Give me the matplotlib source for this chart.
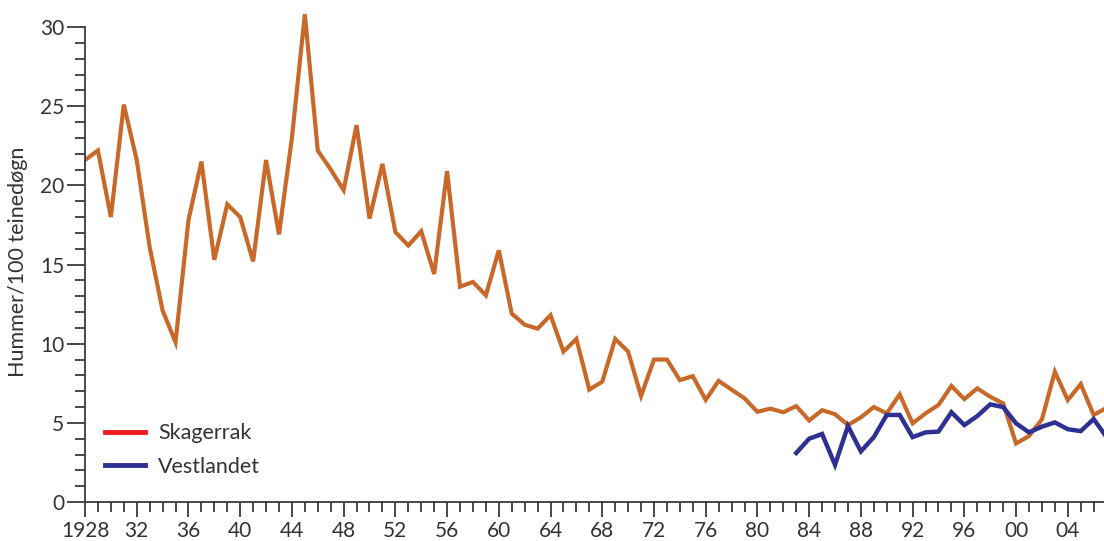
import matplotlib.pyplot as plt
from matplotlib.lines import Line2D
from matplotlib.ticker import MultipleLocator, FixedLocator

plt.rcParams['font.family'] = ['Lato', 'DejaVu Sans']

# Skagerrak (orange line), 1928-2007
years_sk = list(range(1928, 2008))
skagerrak = [21.6, 22.2, 18.0, 25.1, 21.6, 16.1, 12.1, 10.1, 17.8, 21.5,
             15.3, 18.8, 18.0, 15.2, 21.6, 16.9, 23.0, 30.8, 22.2, 21.0,
             19.7, 23.8, 17.9, 21.35, 17.05, 16.2, 17.1, 14.4, 20.9, 13.6,
             13.9, 13.05, 15.9, 11.9, 11.2, 10.95, 11.8, 9.5, 10.3, 7.1,
             7.6, 10.3, 9.5, 6.7, 9.0, 9.0, 7.7, 7.95, 6.45, 7.65,
             7.1, 6.55, 5.7, 5.9, 5.67, 6.06, 5.15, 5.8, 5.55, 4.86,
             5.35, 6.0, 5.6, 6.8, 4.97, 5.6, 6.13, 7.33, 6.5, 7.18,
             6.65, 6.23, 3.7, 4.17, 5.22, 8.23, 6.44, 7.45, 5.5, 5.95]

# Vestlandet (blue line), 1983-2007
years_vl = list(range(1983, 2008))
vestlandet = [3.1, 4.0, 4.3, 2.35, 4.8, 3.2, 4.1, 5.5, 5.5, 4.1,
              4.4, 4.45, 5.67, 4.86, 5.43, 6.17, 6.0, 4.97, 4.4, 4.76,
              5.03, 4.6, 4.48, 5.24, 4.1]

major_years = list(range(1928, 2007, 4))
major_labels = ['1928'] + ['%02d' % (y % 100) for y in major_years[1:]]

orange = '#c8692a'
blue = '#2e3192'
red = '#ed1c24'
axis_col = '#3a3a3a'

fig = plt.figure(figsize=(11.04, 5.41), dpi=100)
ax = fig.add_axes([0.077, 0.072, 0.923, 0.922])

ax.plot(years_sk, skagerrak, color=orange, lw=3.0, solid_joinstyle='miter')
ax.plot(years_vl, vestlandet, color=blue, lw=3.2, solid_joinstyle='miter')

ax.set_xlim(1928, 2006.8)
ax.set_ylim(0, 31.5)

for s in ['top', 'right']:
    ax.spines[s].set_visible(False)
for s in ['left', 'bottom']:
    ax.spines[s].set_color(axis_col)
    ax.spines[s].set_linewidth(1.3)
ax.spines['left'].set_bounds(0, 30)

ax.xaxis.set_major_locator(FixedLocator(major_years))
ax.set_xticklabels(major_labels)
ax.xaxis.set_minor_locator(MultipleLocator(1))
ax.yaxis.set_major_locator(FixedLocator([0, 5, 10, 15, 20, 25, 30]))
ax.yaxis.set_minor_locator(FixedLocator(range(0, 31)))

ax.tick_params(axis='x', which='major', length=11, width=1.3, color=axis_col,
               labelsize=15, labelcolor='#333333', pad=3)
ax.tick_params(axis='x', which='minor', length=7.5, width=1.3, color=axis_col)
ax.tick_params(axis='y', which='major', length=13, width=1.3, color=axis_col,
               labelsize=15, labelcolor='#333333', pad=2)
ax.tick_params(axis='y', which='minor', length=7, width=1.3, color=axis_col)

ax.set_ylabel('Hummer/100 teinedøgn', fontsize=15.5, color='#333333')
ax.yaxis.set_label_coords(-0.056, 0.481)

handles = [Line2D([], [], color=red, lw=3.5),
           Line2D([], [], color=blue, lw=3.5)]
leg = ax.legend(handles, ['Skagerrak', 'Vestlandet'], loc='upper left',
                bbox_to_anchor=(0.0196, 0.158), frameon=False, fontsize=15.5,
                handlelength=1.86, handletextpad=0.6, labelspacing=0.62,
                borderpad=0, borderaxespad=0)
for t in leg.get_texts():
    t.set_color('#333333')

fig.savefig('out.png', dpi=100)
